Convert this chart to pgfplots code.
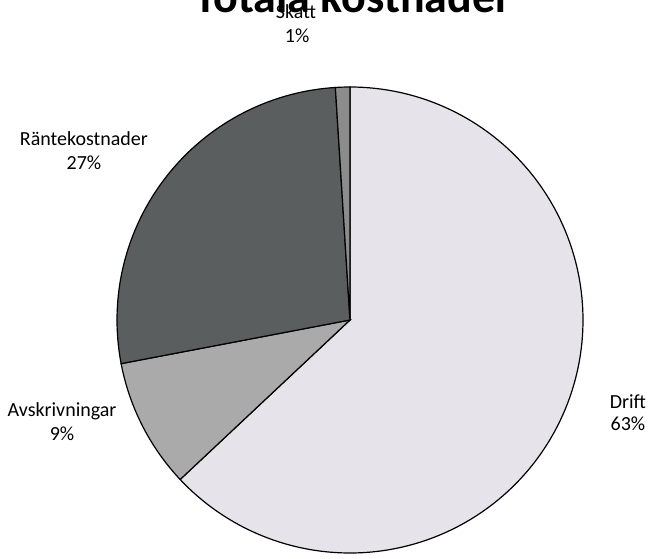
\documentclass[border=0pt]{standalone}
\usepackage{fontspec}
\setmainfont{Carlito}
\usepackage{pgfplots}
\usepackage{pgfplotstable}
\pgfplotsset{compat=1.18}
\definecolor{driftc}{HTML}{E6E4EA}
\definecolor{avskc}{HTML}{AAAAAA}
\definecolor{rantc}{HTML}{5A5E5E}
\definecolor{skattc}{HTML}{8C8C8C}
% shares of total cost, percent (clockwise from 12 o'clock)
\pgfplotstableread{
name pct
Drift 63
Avskrivningar 9
Rantekostnader 27
Skatt 1
}\slices
\begin{document}
\begin{tikzpicture}
\pgfplotstablegetelem{0}{pct}\of\slices\let\pA\pgfplotsretval
\pgfplotstablegetelem{1}{pct}\of\slices\let\pB\pgfplotsretval
\pgfplotstablegetelem{2}{pct}\of\slices\let\pC\pgfplotsretval
\pgfplotstablegetelem{3}{pct}\of\slices\let\pD\pgfplotsretval
\pgfmathsetmacro{\aA}{90-3.6*\pA}
\pgfmathsetmacro{\aB}{\aA-3.6*\pB}
\pgfmathsetmacro{\aC}{\aB-3.6*\pC}
\pgfmathsetmacro{\aD}{\aC-3.6*\pD}
\begin{axis}[
  hide axis, x=116.5pt, y=116.5pt,
  xmin=-1.5, xmax=1.5, ymin=-1.5, ymax=1.5,
  anchor=origin, at={(175pt,-160pt)}, clip=false,
  every node/.style={font=\fontsize{9.8}{12}\selectfont},
]
\addplot[fill=driftc, draw=black, line width=0.6pt, domain=\aA:90, samples=150, smooth]
  ({cos(x)},{sin(x)}) -- (axis cs:0,0) -- cycle;
\addplot[fill=avskc, draw=black, line width=0.6pt, domain=\aB:\aA, samples=30, smooth]
  ({cos(x)},{sin(x)}) -- (axis cs:0,0) -- cycle;
\addplot[fill=rantc, draw=black, line width=0.6pt, domain=\aC:\aB, samples=80, smooth]
  ({cos(x)},{sin(x)}) -- (axis cs:0,0) -- cycle;
\addplot[fill=skattc, draw=black, line width=0.6pt, domain=\aD:\aC, samples=5, smooth]
  ({cos(x)},{sin(x)}) -- (axis cs:0,0) -- cycle;
\node[anchor=base] at (axis cs:0.013,1.318) {\fontsize{23}{28}\selectfont\bfseries Totala kostnader};
\node[anchor=base] at (axis cs:-0.232,1.296) {Skatt};
\node[anchor=base] at (axis cs:-0.227,1.189) {1\%};
\node[anchor=base] at (axis cs:-1.142,0.751) {Räntekostnader};
\node[anchor=base] at (axis cs:-1.142,0.644) {27\%};
\node[anchor=base] at (axis cs:-1.236,-0.412) {Avskrivningar};
\node[anchor=base] at (axis cs:-1.236,-0.519) {9\%};
\node[anchor=base] at (axis cs:1.193,-0.378) {Drift};
\node[anchor=base] at (axis cs:1.193,-0.476) {63\%};
\end{axis}
\pgfresetboundingbox
\path[use as bounding box] (0,0) rectangle (324pt,-279pt);
\end{tikzpicture}
\end{document}
